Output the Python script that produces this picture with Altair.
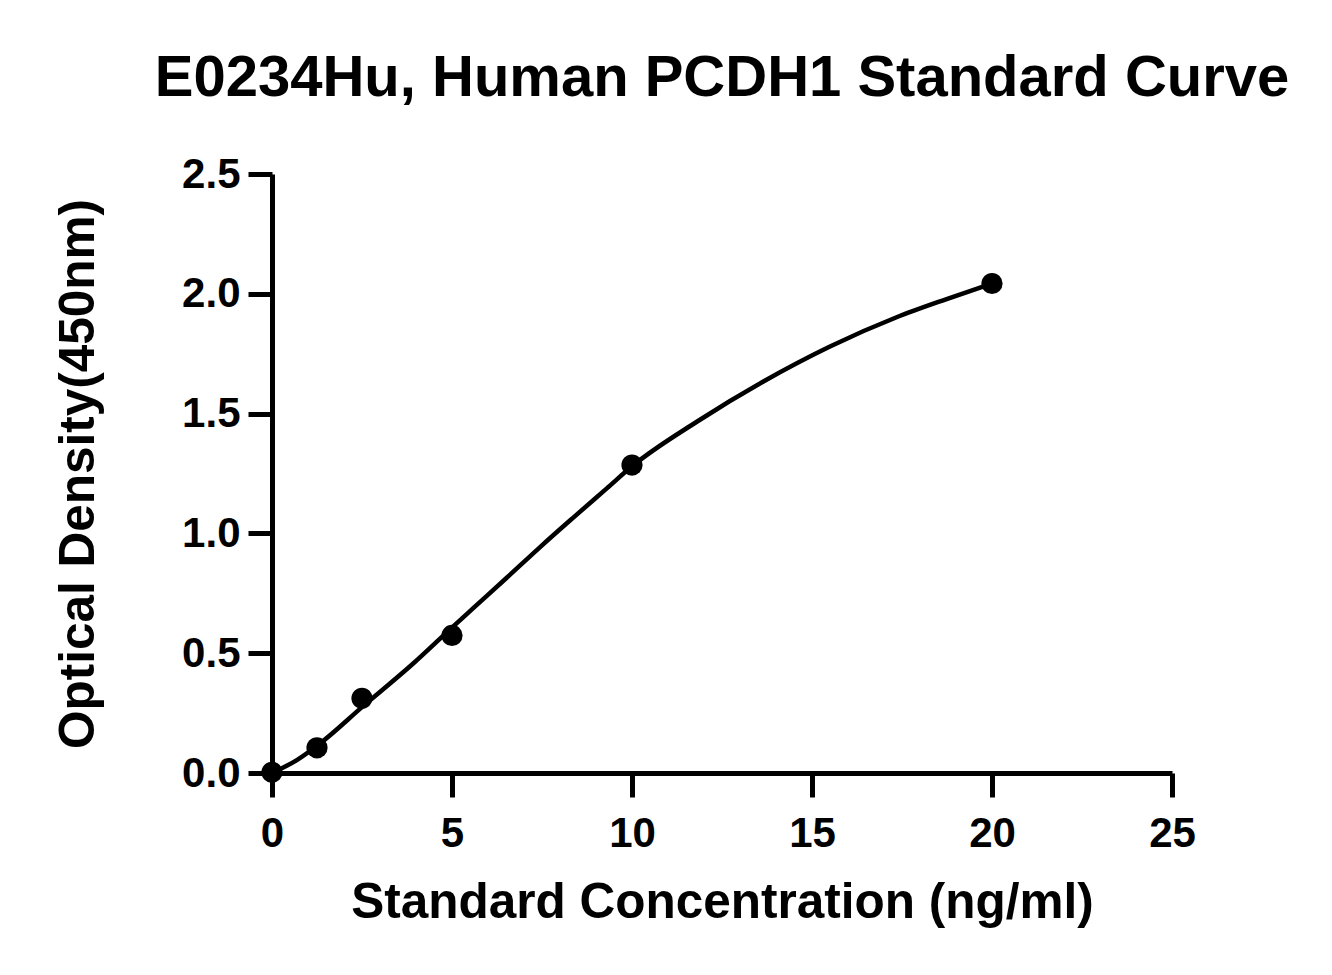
import altair as alt
import pandas as pd

# Standard points
conc = [0, 1.25, 2.5, 5, 10, 20]
od = [0.003, 0.105, 0.312, 0.574, 1.285, 2.043]

# Fitted curve
curve_x = [0, 0.69, 1.29, 2.54, 3.93, 5.02, 5.59, 6.52, 7.44, 8.37, 9.30, 10,
           11.80, 13.65, 15.5, 17.35, 18.74, 20]
curve_y = [0.0, 0.054, 0.118, 0.280, 0.458, 0.610, 0.688, 0.815, 0.942, 1.066,
           1.188, 1.280, 1.466, 1.634, 1.780, 1.902, 1.978, 2.043]

x_ticks = [0, 5, 10, 15, 20, 25]
y_ticks = [0.0, 0.5, 1.0, 1.5, 2.0, 2.5]

FONT = "Liberation Sans"

pts = pd.DataFrame({"conc": conc, "od": od})
crv = pd.DataFrame({"conc": curve_x, "od": curve_y})

x_enc = alt.X(
    "conc:Q",
    scale=alt.Scale(domain=[0, 25], nice=False, zero=False),
    axis=alt.Axis(
        values=x_ticks, format="d", title="Standard Concentration (ng/ml)",
        labelPadding=16, titlePadding=24, labelFlush=False,
    ),
)
y_enc = alt.Y(
    "od:Q",
    scale=alt.Scale(domain=[0, 2.5], nice=False, zero=False),
    axis=alt.Axis(
        values=y_ticks, format=".1f", title="Optical Density(450nm)",
        labelPadding=8, titlePadding=78, labelFlush=False,
    ),
)

line = alt.Chart(crv).mark_line(color="black", strokeWidth=4.5, interpolate="monotone").encode(
    x=x_enc, y=y_enc
)
points = alt.Chart(pts).mark_circle(color="black", opacity=1, size=450).encode(
    x="conc:Q", y="od:Q"
)

chart = (
    alt.layer(line, points)
    .properties(
        width=900,
        height=599,
        autosize=alt.AutoSizeParams(type="none"),
        padding={"left": 264, "top": 166, "right": 150, "bottom": 170},
        title=alt.TitleParams(
            "E0234Hu, Human PCDH1 Standard Curve",
            font=FONT, fontSize=58, fontWeight="bold", color="black",
            anchor="middle", offset=45,
        ),
    )
    .configure_view(strokeWidth=0)
    .configure_axis(
        grid=False,
        domainColor="black", domainWidth=5,
        tickColor="black", tickWidth=5, tickSize=24,
        labelFont=FONT, labelFontSize=42, labelFontWeight="bold", labelColor="black",
        titleFont=FONT, titleFontSize=49.5, titleFontWeight="bold", titleColor="black",
        labelOverlap=False,
    )
)

chart.save("out.html", embed_options={"renderer": "svg", "actions": False})
